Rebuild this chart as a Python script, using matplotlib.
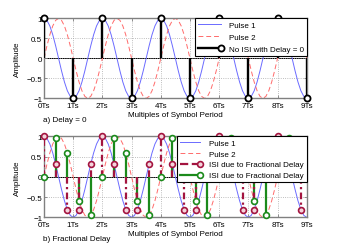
import matplotlib
matplotlib.use("Agg")
import matplotlib.pyplot as plt
from matplotlib.lines import Line2D
from matplotlib.legend_handler import HandlerBase

plt.rcParams['font.family'] = ['Liberation Sans', 'DejaVu Sans']

# one period (2Ts) of each pulse, read every 0.1Ts
pulse1_cycle = [1, 0.95, 0.81, 0.59, 0.31, 0, -0.31, -0.59, -0.81, -0.95,
                -1, -0.95, -0.81, -0.59, -0.31, 0, 0.31, 0.59, 0.81, 0.95]
pulse2_cycle = [0, 0.31, 0.59, 0.81, 0.95, 1, 0.95, 0.81, 0.59, 0.31,
                0, -0.31, -0.59, -0.81, -0.95, -1, -0.95, -0.81, -0.59, -0.31]
curve_t = [i / 10 for i in range(91)]
pulse1 = (pulse1_cycle * 5)[:91]
pulse2 = (pulse2_cycle * 5)[:91]

# a) samples at the symbol instants
symbol_t = [0, 1, 2, 3, 4, 5, 6, 7, 8, 9]
symbol_val = [1, -1, 1, -1, 1, -1, 1, -1, 1, -1]

# b) samples with fractional delay
frac_t = [0, 0.4, 0.8, 1.2, 1.6, 2.0, 2.4, 2.8, 3.2, 3.6, 4.0, 4.4,
          4.8, 5.2, 5.6, 6.0, 6.4, 6.8, 7.2, 7.6, 8.0, 8.4, 8.8]
isi_red = [1, 0.31, -0.81, -0.81, 0.31, 1, 0.31, -0.81, -0.81, 0.31, 1, 0.31,
           -0.81, -0.81, 0.31, 1, 0.31, -0.81, -0.81, 0.31, 1, 0.31, -0.81]
isi_green = [0, 0.95, 0.59, -0.59, -0.95, 0, 0.95, 0.59, -0.59, -0.95, 0, 0.95,
             0.59, -0.59, -0.95, 0, 0.95, 0.59, -0.59, -0.95, 0, 0.95, 0.59]

xticks = [0, 1, 2, 3, 4, 5, 6, 7, 8, 9]
xticklabels = ['0Ts', '1Ts', '2Ts', '3Ts', '4Ts', '5Ts', '6Ts', '7Ts', '8Ts', '9Ts']
yticks = [-1, -0.5, 0, 0.5, 1]

FS = 5.8
BLUE = '#6b6bff'
PINK = '#ff6b6b'
DRED = '#a3143f'
GREEN = '#1b8a1b'


class StemHandle(HandlerBase):
    # line with the marker at its right end, like a matlab stem legend
    def create_artists(self, legend, orig, xd, yd, w, h, fs, trans):
        y = h / 2 - yd
        ln = Line2D([-xd, w - xd], [y, y], color=orig.get_color(),
                    lw=orig.get_linewidth(), ls=orig.get_linestyle())
        mk = Line2D([w - xd], [y], ls='none', marker='o', ms=orig.get_markersize(),
                    mec=orig.get_markeredgecolor(), mfc=orig.get_markerfacecolor(),
                    mew=orig.get_markeredgewidth())
        ln.set_transform(trans)
        mk.set_transform(trans)
        return [ln, mk]


def style_axes(ax, note):
    ax.set_xlim(0, 9)
    ax.set_ylim(-1, 1)
    ax.set_xticks(xticks)
    ax.set_xticklabels(xticklabels)
    ax.set_yticks(yticks)
    ax.set_yticklabels(['\u22121', '\u22120.5', '0', '0.5', '1'])
    ax.tick_params(direction='in', length=2, width=0.6, color='#808080',
                   labelsize=FS, top=True, right=True)
    ax.tick_params(axis='x', pad=2.5)
    ax.tick_params(axis='y', pad=1.2)
    for s in ax.spines.values():
        s.set_color('#808080')
        s.set_linewidth(1.0)
    ax.grid(True, ls=':', color='#a8a8a8', lw=0.6)
    ax.axhline(0, color='black', lw=0.7, zorder=1.5)
    ax.set_xlabel('Multiples of Symbol Period', fontsize=FS)
    ax.set_ylabel('Amplitude', fontsize=FS)
    ax.xaxis.set_label_coords(0.5, -0.16)
    ax.yaxis.set_label_coords(-0.086, 0.5)
    pos = ax.get_position()
    fig.text(pos.x0 - 0.003, pos.y0 - 0.086, note, fontsize=FS, ha='left', va='center')


fig = plt.figure(figsize=(3.39, 2.51), dpi=100)
ax1 = fig.add_axes([0.1298, 0.604, 0.775, 0.319])
ax2 = fig.add_axes([0.1298, 0.130, 0.775, 0.323])

# ---- a) Delay = 0
ax1.plot(curve_t, pulse1, color=BLUE, lw=0.7)
ax1.plot(curve_t, pulse2, color=PINK, lw=0.7, ls=(0, (5, 3)))
ax1.vlines(symbol_t, 0, symbol_val, color='black', lw=1.7, zorder=3)
ax1.plot(symbol_t, symbol_val, ls='none', marker='o', ms=4.4, mec='black',
         mfc='white', mew=1.3, zorder=4, clip_on=False)
style_axes(ax1, 'a) Delay = 0')

h1 = [Line2D([], [], color=BLUE, lw=0.7),
      Line2D([], [], color=PINK, lw=0.7, ls=(0, (5, 3))),
      Line2D([], [], color='black', lw=1.7, marker='o', ms=4.4, mec='black',
             mfc='white', mew=1.3)]
leg1 = ax1.legend(h1, ['Pulse 1', 'Pulse 2', 'No ISI with Delay = 0'],
                  loc='upper right', fontsize=FS, frameon=True, fancybox=False,
                  edgecolor='black', framealpha=1, borderaxespad=0, borderpad=0.4,
                  handlelength=2.9, handletextpad=0.9, labelspacing=0.5,
                  handler_map={h1[2]: StemHandle()})
leg1.get_frame().set_linewidth(0.8)

# ---- b) Fractional Delay
ax2.plot(curve_t, pulse1, color=BLUE, lw=0.7)
ax2.plot(curve_t, pulse2, color=PINK, lw=0.7, ls=(0, (5, 3)))
ax2.vlines(frac_t, 0, isi_green, color=GREEN, lw=1.6, zorder=2.5)
ax2.vlines(frac_t, 0, isi_red, color=DRED, lw=1.6, linestyles=(0, (3, 1.5, 1, 1.5)), zorder=2.6)
ax2.plot(frac_t, isi_green, ls='none', marker='o', ms=4.2, mec=GREEN, mfc='white',
         mew=1.2, zorder=4, clip_on=False)
ax2.plot(frac_t, isi_red, ls='none', marker='o', ms=4.2, mec=DRED, mfc='#f4d4dc',
         mew=1.2, zorder=4.1, clip_on=False)
style_axes(ax2, 'b) Fractional Delay')

h2 = [Line2D([], [], color=BLUE, lw=0.7),
      Line2D([], [], color=PINK, lw=0.7, ls=(0, (5, 3))),
      Line2D([], [], color=DRED, lw=1.6, ls=(0, (3, 1.5, 1, 1.5)), marker='o', ms=4.2,
             mec=DRED, mfc='#f4d4dc', mew=1.2),
      Line2D([], [], color=GREEN, lw=1.6, marker='o', ms=4.2, mec=GREEN,
             mfc='white', mew=1.2)]
leg2 = ax2.legend(h2, ['Pulse 1', 'Pulse 2', 'ISI due to Fractional Delay',
                       'ISI due to Fractional Delay'],
                  loc='upper right', fontsize=FS, frameon=True, fancybox=False,
                  edgecolor='black', framealpha=1, borderaxespad=0, borderpad=0.35,
                  handlelength=2.5, handletextpad=1.1, labelspacing=0.4,
                  handler_map={h2[2]: StemHandle(), h2[3]: StemHandle()})
leg2.get_frame().set_linewidth(0.8)

fig.savefig('out.png', dpi=100)
